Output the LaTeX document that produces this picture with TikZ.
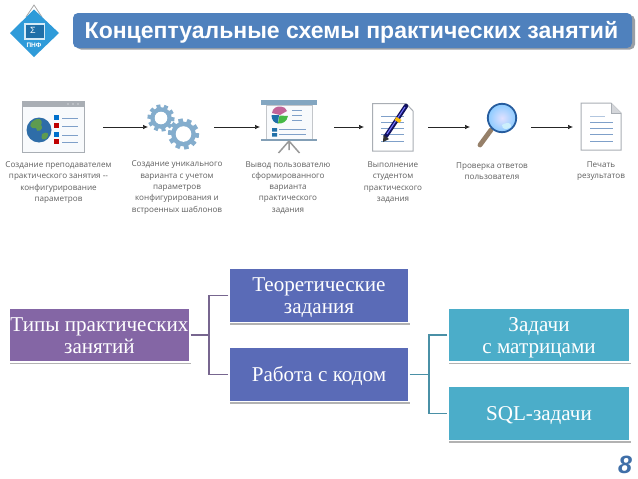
\documentclass[tikz,border=0pt]{standalone}
\usepackage{fontspec}
\setmainfont{Liberation Serif}
\newfontfamily\arialf{Liberation Sans}
\newfontfamily\capf{Open Sans}
\usetikzlibrary{shadows,arrows.meta}
\definecolor{titleblue}{HTML}{4F81BD}
\definecolor{titlegray}{HTML}{9A9FA6}
\definecolor{purplebox}{HTML}{8466A5}
\definecolor{bluebox}{HTML}{5A6BB7}
\definecolor{tealbox}{HTML}{4BADC9}
\definecolor{purpleline}{HTML}{77668F}
\definecolor{tealline}{HTML}{4A90A6}
\definecolor{gearblue}{HTML}{84ADCD}
\definecolor{linesblue}{HTML}{7FA0C9}
\definecolor{framegray}{HTML}{A9AEB4}
\definecolor{captext}{HTML}{5F5F5F}
\definecolor{logoblue}{HTML}{2F9BD9}
\definecolor{logodark}{HTML}{1F6FA8}
\definecolor{pageblue}{HTML}{3F6FA8}
\definecolor{globesea}{HTML}{2E6DA8}
\definecolor{globeland}{HTML}{5E9B50}
\tikzset{
 box/.style={draw=white,line width=1.4pt,minimum width=#1,minimum height=54,inner sep=0pt,align=center,text=white,
   font=\fontsize{21.1}{22}\selectfont,
   drop shadow={shadow xshift=1.1pt,shadow yshift=-2.4pt,fill=black,opacity=.3}},
 oneline/.style={text height=17pt,text depth=4pt},
 twoline/.style={text height=40pt,text depth=4pt},
 caption/.style={font=\capf\fontsize{8.1}{11.3}\selectfont,text=captext,align=center,inner sep=0pt},
 flow/.style={draw=black!85,line width=.7pt,-{Latex[length=5pt,width=4.5pt]}},
 elbowp/.style={draw=purpleline,line width=1.5pt},
 elbowt/.style={draw=tealline,line width=1.7pt},
 listline/.style={draw=linesblue,line width=.9pt},
 sheet/.style={draw=framegray,line width=1pt,fill=white},
}
\newcommand{\gearshape}[4]{% x y outer hole
 \fill[gearblue] (#1,#2) circle ({#3*0.8});
 \foreach \a in {0,36,...,324}{
  \fill[gearblue,shift={(#1,#2)},rotate=\a+12] (-{#3*0.15},0) rectangle ({#3*0.15},{#3});
 }
 \fill[white] (#1,#2) circle (#4);
}
\begin{document}
\begin{tikzpicture}[x=1pt,y=-1pt]
\useasboundingbox (0,0) rectangle (638,479);
\fill[white] (0,0) rectangle (638,479);

% logo
\draw[gray!70,line width=.8pt] (26,17) -- (34,5) -- (42,17);
\fill[logoblue] (34,9.5) -- (59,33) -- (34,57) -- (10,33) -- cycle;
\fill[white!80!logoblue] (24,23) rectangle (45,39.5);
\fill[logodark] (25.5,24.5) rectangle (43.5,37.5);
\node[inner sep=0pt,text=white,font=\arialf\fontsize{9}{9}\selectfont] (logosigma) at (33,30.5) {Σ};
\node[inner sep=0pt,text=white,font=\arialf\bfseries\fontsize{6.5}{6.5}\selectfont] (logotext) at (34,45) {ПНФ};

% title
\fill[titlegray,rounded corners=5pt] (76,15) rectangle (635,49.5);
\fill[titleblue,rounded corners=5pt] (73,13) rectangle (632,48);
\node[inner sep=0pt,text=white,font=\arialf\bfseries\fontsize{23}{24}\selectfont] (title) at (351.5,32.5) {Концептуальные схемы практических занятий};

% icon 1: window
\filldraw[fill=white!94!gearblue,draw=framegray,line width=1pt] (22.5,101.5) rectangle (84,152.5);
\fill[framegray] (22.5,101.5) rectangle (84,107);
\foreach \x in {68,73,78} \fill[white] (\x,104) circle (.7);
\fill[globesea] (39,130) circle (12.5);
\fill[globeland] (33,121) .. controls (38,117) and (44,119) .. (41,125) .. controls (45,130) and (36,134) .. (36,128) .. controls (29,129) and (29,124) .. (33,121) -- cycle;
\fill[globeland] (42,134) .. controls (47,131) and (50,133) .. (47,138) .. controls (44,141) and (40,140) .. (42,134) -- cycle;
\foreach \y/\c in {117/blue!45!cyan!80!black,125/red!75!black,134/blue!45!cyan!80!black,141/red!75!black}{
 \fill[\c] (54,\y-2.5) rectangle (59,\y+2.5);
 \draw[listline] (62,\y+1) -- (78,\y+1);
}

% icon 2: gears
\gearshape{161}{118}{13.5}{6.3}
\gearshape{183.5}{134}{15.5}{7.8}

% icon 3: screen
\fill[white!94!gearblue] (266,105) rectangle (312,139);
\draw[framegray!70,line width=.5pt] (266,105) rectangle (312,139);
\fill[gearblue!85!gray] (261,99.5) rectangle (317,105);
\fill[gearblue!70!gray] (261,138.5) rectangle (317,141);
\draw[gray!80,line width=1.5pt] (289,141) -- (278.5,153) (289,141) -- (299.5,153) (289,141) -- (289,150);
\fill[magenta!50!gray] (280,115) -- (272,113) .. controls (272.5,108) and (277,106) .. (281,106.5) .. controls (284,107) and (286,108) .. (287,111) -- cycle;
\fill[logodark] (279,115) -- (271.5,115) .. controls (271.5,120) and (274,123) .. (278,123.5) -- cycle;
\fill[green!45!gray] (279.5,115.5) -- (288,116) .. controls (287,122) and (282,124) .. (278,123.5) -- cycle;
\draw[listline] (292,110) -- (302,110) (292,115) -- (302,115) (292,120) -- (302,120);
\fill[logodark] (272,128) rectangle (277,131.5) (272,133) rectangle (277,136.5);
\draw[listline] (279,129.5) -- (306,129.5) (279,134.5) -- (306,134.5);

% icon 4: document with pen
\draw[sheet] (372.5,103.5) -- (406,103.5) -- (413,111) -- (413,151) -- (372.5,151) -- cycle;
\foreach \y in {116,122,128,134,141} \draw[listline] (381,\y) -- (404,\y);
\draw[blue!35!black!85!gray,line width=4.4pt,line cap=round] (386,136) -- (406,106);
\draw[white!45!blue,line width=1.1pt] (387,134) -- (405,107);
\fill[yellow!50!orange] (396.5,117) -- (401.5,120) -- (399.5,123) -- (394.5,120) -- cycle;
\fill[black!80] (383,142) -- (383.5,135) -- (389,139) -- cycle;

% icon 5: magnifier
\draw[gray!65!brown,line width=4.8pt,line cap=round] (480,145) -- (491,130);
\shade[inner color=blue!12!white,outer color=blue!45!cyan!45!white] (502,118) circle (14);
\draw[blue!55!cyan!55!black!85!white,line width=1.8pt] (502,118) circle (14.2);
\fill[white!80!cyan] (502,125) .. controls (506,122) and (512,122) .. (511,127) .. controls (507,130) and (502,130) .. (502,125) -- cycle;

% icon 6: document
\draw[sheet] (581,103) -- (611,103) -- (621,113) -- (621,150) -- (581,150) -- cycle;
\fill[framegray!50] (611,103) -- (611,113) -- (621,113) -- cycle;
\draw[framegray,line width=.6pt] (611,103) -- (611,113) -- (621,113);
\draw[linesblue!60,line width=.9pt] (590,116) -- (605,116);
\foreach \y in {122,128.5,134.5,141} \draw[listline] (590,\y) -- (613,\y);

% arrows
\coordinate (a1s) at (103,127); \coordinate (a1e) at (148,127);
\coordinate (a2s) at (214,127); \coordinate (a2e) at (260,127);
\coordinate (a3s) at (334,127); \coordinate (a3e) at (364,127);
\coordinate (a4s) at (428,127); \coordinate (a4e) at (470,127);
\coordinate (a5s) at (531,127); \coordinate (a5e) at (573,127);
\draw[flow] (a1s) -- (a1e);
\draw[flow] (a2s) -- (a2e);
\draw[flow] (a3s) -- (a3e);
\draw[flow] (a4s) -- (a4e);
\draw[flow] (a5s) -- (a5e);

% captions
\node[caption] (c1) at (58.5,182.5) {Создание преподавателем\\практического занятия --\\конфигурирование\\параметров};
\node[caption] (c2) at (177,187.5) {Создание уникального\\варианта с учетом\\параметров\\конфигурирования и\\встроенных шаблонов};
\node[caption] (c3) at (288,187.5) {Вывод пользователю\\сформированного\\варианта\\практического\\задания};
\node[caption] (c4) at (393,182.5) {Выполнение\\студентом\\практического\\задания};
\node[caption] (c5) at (492,171) {Проверка ответов\\пользователя};
\node[caption] (c6) at (601,171) {Печать\\результатов};

% hierarchy
\node[box=181,twoline,fill=purplebox] (types) at (99.5,335) {Типы практических\\занятий};
\node[box=180,twoline,fill=bluebox] (theory) at (319,295.5) {Теоретические\\задания};
\node[box=180,oneline,fill=bluebox] (code) at (319,374.5) {Работа с кодом};
\node[box=182,twoline,fill=tealbox] (matrix) at (539,335) {Задачи\\с матрицами};
\node[box=182,oneline,fill=tealbox] (sql) at (539,413.5) {SQL-задачи};

\coordinate (tp) at (209,335);
\coordinate (tq) at (429,374.5);
\draw[elbowp] (types.east) -- (tp);
\draw[elbowp] (theory.west) -- (theory.west -| tp) -- (code.west -| tp) -- (code.west);
\draw[elbowt] (code.east) -- (tq);
\draw[elbowt] (matrix.west) -- (matrix.west -| tq) -- (sql.west -| tq) -- (sql.west);

% page number
\node[inner sep=0pt,text=pageblue,font=\arialf\bfseries\itshape\fontsize{25}{25}\selectfont] (page) at (625,464.5) {8};
\end{tikzpicture}
\end{document}
